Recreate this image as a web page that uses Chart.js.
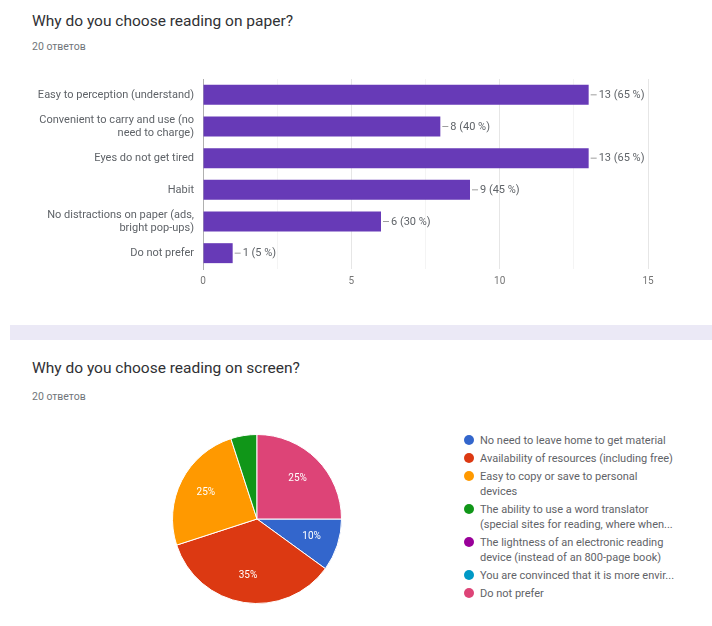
<!DOCTYPE html>
<html>
<head>
<meta charset="utf-8">
<script src="https://cdn.jsdelivr.net/npm/chart.js@4/dist/chart.umd.min.js"></script>
<style>
  body { margin: 0; width: 712px; height: 626px; background: #fff; position: relative; overflow: hidden; font-family: Roboto, Arial, sans-serif; }
  .title { position: absolute; left: 32px; font-size: 15.5px; color: #303134; }
  .sub { position: absolute; left: 32px; font-size: 10.5px; color: #70757a; }
  .band { position: absolute; left: 10px; top: 325px; width: 702px; height: 15px; background: #ebe9f6; }
  #legend { position: absolute; left: 464px; top: 433px; font-size: 11px; color: #5f6368; line-height: 15px; }
  .item { position: relative; padding-left: 16px; margin-bottom: 3px; white-space: nowrap; }
  .dot { position: absolute; left: 0px; top: 2px; width: 10px; height: 10px; border-radius: 50%; }
</style>
</head>
<body>
<div class="title" style="top:12px">Why do you choose reading on paper?</div>
<div class="sub" style="top:40px">20 ответов</div>
<canvas id="paper-chart" style="position:absolute;left:0;top:60px"></canvas>
<div class="band"></div>
<div class="title" style="top:359px">Why do you choose reading on screen?</div>
<div class="sub" style="top:390px">20 ответов</div>
<canvas id="screen-chart" style="position:absolute;left:172px;top:434px"></canvas>
<div id="legend"></div>
<script>
// paper question (bar chart)
const totalAnswers = 20;
const paperLabels = [
    'Easy to perception (understand)',
    ['Convenient to carry and use (no', 'need to charge)'],
    'Eyes do not get tired',
    'Habit',
    ['No distractions on paper (ads,', 'bright pop-ups)'],
    'Do not prefer'
];
const paperCounts = [13, 8, 13, 9, 6, 1];
const paperTicks = [0, 5, 10, 15];

// screen question (pie chart)
const screenLabels = [
    ['No need to leave home to get material'],
    ['Availability of resources (including free)'],
    ['Easy to copy or save to personal', 'devices'],
    ['The ability to use a word translator', '(special sites for reading, where when...'],
    ['The lightness of an electronic reading', 'device (instead of an 800-page book)'],
    ['You are convinced that it is more envir...'],
    ['Do not prefer']
];
const screenCounts = [2, 7, 5, 1, 0, 0, 5];
const screenColors = ['#3366cc', '#dc3912', '#ff9900', '#109618', '#990099', '#0099c6', '#dd4477'];

Chart.defaults.font.family = 'Roboto, Arial, sans-serif';

const barLabels = {
    id: 'barLabels',
    afterDatasetsDraw(chart) {
        const c = chart.ctx;
        const meta = chart.getDatasetMeta(0);
        c.save();
        c.font = '11px Roboto, Arial, sans-serif';
        c.fillStyle = '#5f6368';
        c.strokeStyle = '#9e9e9e';
        c.textBaseline = 'middle';
        meta.data.forEach((bar, i) => {
            const v = paperCounts[i];
            c.beginPath();
            c.moveTo(bar.x + 2, bar.y);
            c.lineTo(bar.x + 8, bar.y);
            c.stroke();
            c.fillText(v + ' (' + Math.round(v / totalAnswers * 100) + ' %)', bar.x + 10, bar.y + 0.5);
        });
        c.restore();
    }
};

const paperCanvas = document.getElementById('paper-chart');
paperCanvas.width = 712;
paperCanvas.height = 240;
new Chart(paperCanvas, {
    type: 'bar',
    data: {
        labels: paperLabels,
        datasets: [{
            data: paperCounts,
            backgroundColor: '#673ab7',
            barPercentage: 0.63,
            categoryPercentage: 1
        }]
    },
    options: {
        indexAxis: 'y',
        responsive: false,
        animation: false,
        layout: { padding: { top: 19, right: 64, left: 0, bottom: 0 } },
        plugins: { legend: { display: false }, tooltip: { enabled: false } },
        scales: {
            x: {
                min: 0,
                max: 15,
                afterFit: s => { s.height = 31; },
                afterBuildTicks: s => { s.ticks = [0, 2.5, 5, 7.5, 10, 12.5, 15].map(v => ({ value: v })); },
                ticks: {
                    autoSkip: false,
                    maxRotation: 0,
                    padding: 6,
                    color: '#757575',
                    font: { size: 10 },
                    callback: v => paperTicks.includes(v) ? v : ''
                },
                grid: {
                    color: ctx => paperTicks.includes(ctx.tick && ctx.tick.value) ? '#e6e6e6' : '#f4f4f4',
                    drawTicks: false
                },
                border: { display: false }
            },
            y: {
                afterFit: s => { s.width = 203; },
                ticks: { color: '#5f6368', font: { size: 11 }, padding: 1 },
                grid: { display: false },
                border: { color: '#b0b0b0' }
            }
        }
    },
    plugins: [barLabels]
});

const pieLabels = {
    id: 'pieLabels',
    afterDatasetsDraw(chart) {
        const c = chart.ctx;
        c.save();
        c.font = '10px Roboto, Arial, sans-serif';
        c.fillStyle = '#ffffff';
        c.textAlign = 'center';
        c.textBaseline = 'middle';
        chart.getDatasetMeta(0).data.forEach((arc, i) => {
            const pct = Math.round(screenCounts[i] / totalAnswers * 100);
            if (pct < 10) return;
            const mid = (arc.startAngle + arc.endAngle) / 2;
            const r = arc.outerRadius * 0.68;
            c.fillText(pct + '%', arc.x + Math.cos(mid) * r, arc.y + Math.sin(mid) * r);
        });
        c.restore();
    }
};

const screenCanvas = document.getElementById('screen-chart');
screenCanvas.width = 170;
screenCanvas.height = 170;
new Chart(screenCanvas, {
    type: 'pie',
    data: {
        labels: screenLabels.map(l => l.join(' ')),
        datasets: [{
            data: screenCounts,
            backgroundColor: screenColors,
            borderColor: '#ffffff',
            borderWidth: 1
        }]
    },
    options: {
        responsive: false,
        animation: false,
        rotation: 90,
        plugins: { legend: { display: false }, tooltip: { enabled: false } }
    },
    plugins: [pieLabels]
});

const legend = document.getElementById('legend');
screenLabels.forEach((lines, i) => {
    const item = document.createElement('div');
    item.className = 'item';
    const dot = document.createElement('span');
    dot.className = 'dot';
    dot.style.background = screenColors[i];
    item.appendChild(dot);
    lines.forEach((line, j) => {
        if (j) item.appendChild(document.createElement('br'));
        item.appendChild(document.createTextNode(line));
    });
    legend.appendChild(item);
});
</script>
</body>
</html>
